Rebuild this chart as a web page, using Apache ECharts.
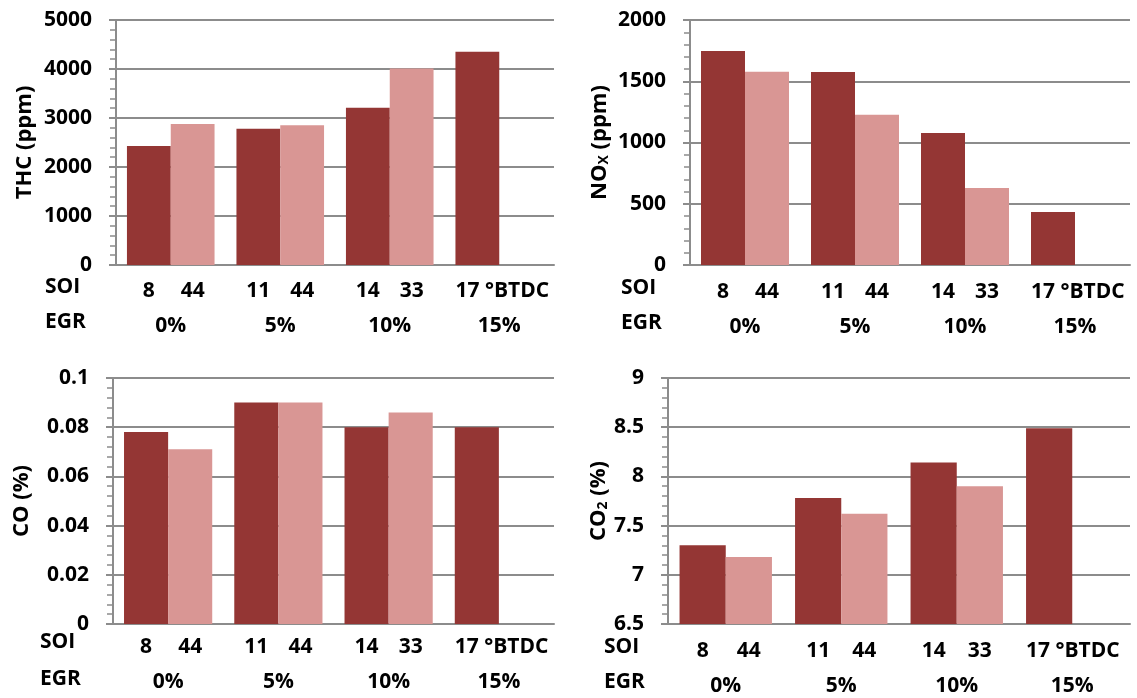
<!DOCTYPE html>
<html>
<head>
<meta charset="utf-8">
<script src="https://cdn.jsdelivr.net/npm/echarts@6/dist/echarts.min.js"></script>
<style>
html,body{margin:0;padding:0;background:#fff;}
#chart{width:1137px;height:698px;}
</style>
</head>
<body>
<div id="chart"></div>
<script>
// ---- data ----
const egrLabels = ['0%', '5%', '10%', '15%'];
const soiFirst = ['8', '11', '14', '17'];
const soiSecond = ['44', '44', '33', ''];
const soiUnit = '°BTDC';

const thcDark = [2430, 2780, 3210, 4350];
const thcLight = [2880, 2850, 4010, null];
const noxDark = [1747, 1576, 1078, 433];
const noxLight = [1578, 1227, 629, null];
const coDark = [0.078, 0.09, 0.08, 0.08];
const coLight = [0.071, 0.09, 0.086, null];
const co2Dark = [7.30, 7.78, 8.14, 8.49];
const co2Light = [7.18, 7.62, 7.90, null];

// ---- styles ----
const DARK = '#943634';
const LIGHT = '#D99694';
const GRAYLINE = '#8c8c8c';
const FONT = '"Open Sans", "Liberation Sans", sans-serif';
const FS = 21;
const NAME_FS = 22;

const grids = [
  {left: 116, top: 20, width: 438, height: 245},
  {left: 690, top: 20, width: 440, height: 245},
  {left: 113, top: 378, width: 441, height: 246},
  {left: 668, top: 378, width: 462, height: 246}
];
const labelMargins = [9, 10, 6, 10];

const panels = [
  {name: 'THC (ppm)', min: 0, max: 5000, interval: 1000, dark: thcDark, light: thcLight, gap: 80},
  {name: 'NO{sub|X} (ppm)', min: 0, max: 2000, interval: 500, dark: noxDark, light: noxLight, gap: 79},
  {name: 'CO (%)', min: 0, max: 0.1, interval: 0.02, dark: coDark, light: coLight, gap: 80},
  {name: 'CO{sub|2} (%)', min: 6.5, max: 9, interval: 0.5, dark: co2Dark, light: co2Light, gap: 57}
];

const xAxes = [], yAxes = [], series = [];
panels.forEach((p, i) => {
  const barW = grids[i].width / 4 * 0.8 / 2;
  xAxes.push({
    type: 'category',
    gridIndex: i,
    data: egrLabels,
    axisLine: {show: true, lineStyle: {color: GRAYLINE, width: 2}},
    axisTick: {show: false},
    axisLabel: {
      interval: 0,
      margin: labelMargins[i],
      formatter: function (val, idx) {
        let line1;
        if (soiSecond[idx] === '') {
          line1 = '{w|' + soiFirst[idx] + ' ' + soiUnit + '}';
        } else {
          line1 = '{a|' + soiFirst[idx] + '}{a|' + soiSecond[idx] + '}';
        }
        return line1 + '\n{e|' + val + '}';
      },
      rich: {
        a: {width: barW, align: 'center', fontFamily: FONT, fontSize: FS, fontWeight: 'bold', color: '#000', lineHeight: 35},
        w: {width: barW * 2, align: 'left', fontFamily: FONT, fontSize: FS, fontWeight: 'bold', color: '#000', lineHeight: 35},
        e: {fontFamily: FONT, fontSize: FS, fontWeight: 'bold', color: '#000', lineHeight: 35}
      }
    }
  });
  yAxes.push({
    type: 'value',
    gridIndex: i,
    min: p.min, max: p.max, interval: p.interval,
    name: p.name,
    nameLocation: 'middle',
    nameGap: p.gap,
    nameTextStyle: {
      fontFamily: FONT, fontSize: NAME_FS, fontWeight: 'bold', color: '#000',
      rich: {
        sub: {fontFamily: FONT, fontSize: 14, fontWeight: 'bold', color: '#000', verticalAlign: 'bottom', lineHeight: 13}
      }
    },
    axisLine: {show: true, lineStyle: {color: GRAYLINE, width: 2}},
    axisTick: {show: true, length: 7, lineStyle: {color: GRAYLINE, width: 2}},
    minorTick: {show: true, splitNumber: 5, length: 6, lineStyle: {color: GRAYLINE, width: 1.5}},
    splitLine: {show: true, lineStyle: {color: GRAYLINE, width: 2}},
    axisLabel: {
      margin: 24, fontFamily: FONT, fontSize: FS, fontWeight: 'bold', color: '#000',
      formatter: v => String(parseFloat(Number(v).toFixed(4)))
    }
  });
  series.push({
    type: 'bar', xAxisIndex: i, yAxisIndex: i, data: p.dark,
    barGap: '0%', barCategoryGap: '20%',
    itemStyle: {color: DARK}, silent: true
  });
  series.push({
    type: 'bar', xAxisIndex: i, yAxisIndex: i, data: p.light,
    barGap: '0%', barCategoryGap: '20%',
    itemStyle: {color: LIGHT}, silent: true
  });
});

const rowLabelStyle = {fontFamily: FONT, fontSize: FS, fontWeight: 'bold', fill: '#000', textVerticalAlign: 'middle'};
const rowLabels = [
  {x: 45, soiY: 292, egrY: 327},
  {x: 621, soiY: 293, egrY: 328},
  {x: 40, soiY: 647, egrY: 684},
  {x: 604, soiY: 652, egrY: 687}
];
const graphics = [];
rowLabels.forEach(r => {
  graphics.push({type: 'text', left: r.x, top: r.soiY - 15, style: Object.assign({text: 'SOI'}, rowLabelStyle)});
  graphics.push({type: 'text', left: r.x, top: r.egrY - 15, style: Object.assign({text: 'EGR'}, rowLabelStyle)});
});

const chart = echarts.init(document.getElementById('chart'), null, {renderer: 'canvas'});
chart.setOption({
  backgroundColor: '#fff',
  animation: false,
  grid: grids.map(g => Object.assign({containLabel: false}, g)),
  xAxis: xAxes,
  yAxis: yAxes,
  series: series,
  graphic: graphics
});
</script>
</body>
</html>
